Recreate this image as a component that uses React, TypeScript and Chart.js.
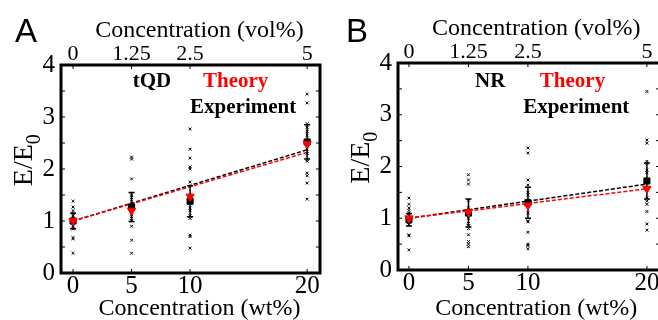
import React, { useEffect, useRef } from "react";
import { Chart, registerables } from "chart.js";

Chart.register(...registerables);

// ---------- data ----------
const CONC_WT = [0, 5, 10, 20];
const CONC_VOL_LABELS = ["0", "1.25", "2.5", "5"];
const Y_MAJOR = [0, 1, 2, 3, 4];
const Y_MINOR = [0, 0.5, 1, 1.5, 2, 2.5, 3, 3.5, 4];
const FIT_X = [0, 20];

// Panel A (tQD)
const A_RAW_0 = [1.38, 1.27, 1.2, 1.15, 1.1, 1.05, 1.0, 0.95, 0.9, 0.85, 0.68, 0.66, 0.38];
const A_RAW_5 = [2.23, 2.19, 1.81, 1.5, 1.45, 1.38, 1.3, 1.2, 1.12, 1.05, 1.0, 0.9, 0.63, 0.38];
const A_RAW_10 = [2.77, 2.38, 2.21, 2.04, 2.0, 1.75, 1.5, 1.4, 1.25, 1.2, 1.1, 1.05, 0.73, 0.7, 0.48];
const A_RAW_20 = [3.44, 3.27, 2.87, 2.8, 2.72, 2.65, 2.55, 2.45, 2.38, 2.3, 2.19, 2.15, 1.92, 1.87, 1.73, 1.42];
const A_EXP_MEAN = [1.0, 1.27, 1.38, 2.52];
const A_EXP_ERR = [0.15, 0.28, 0.3, 0.33];
const A_THEORY = [1.0, 1.2, 1.47, 2.48];
const A_FIT_EXP = [1.0, 2.37];
const A_FIT_THEORY = [1.0, 2.32];

// Panel B (NR)
const B_RAW_0 = [1.39, 1.27, 1.2, 1.15, 1.1, 1.05, 0.97, 0.92, 0.88, 0.68, 0.66, 0.39];
const B_RAW_5 = [1.84, 1.74, 1.66, 1.35, 1.2, 1.1, 1.0, 0.9, 0.85, 0.8, 0.68, 0.55, 0.5, 0.45];
const B_RAW_10 = [2.36, 2.26, 1.74, 1.64, 1.5, 1.45, 1.35, 1.25, 1.1, 0.95, 0.93, 0.73, 0.5, 0.47, 0.41];
const B_RAW_20 = [3.45, 2.51, 2.45, 2.1, 2.06, 1.93, 1.88, 1.6, 1.39, 1.33, 1.27, 1.13, 0.89, 0.77];
const B_EXP_MEAN = [0.97, 1.1, 1.3, 1.72];
const B_EXP_ERR = [0.12, 0.27, 0.3, 0.35];
const B_THEORY = [1.0, 1.12, 1.25, 1.57];
const B_FIT_EXP = [1.0, 1.66];
const B_FIT_THEORY = [1.0, 1.57];

const SERIF = '"Liberation Serif", "Times New Roman", serif';
const SANS = '"Liberation Sans", Arial, sans-serif';

type Panel = {
  letter: string;
  name: string;
  raw: number[][];
  expMean: number[];
  expErr: number[];
  theory: number[];
  fitExp: number[];
  fitTheory: number[];
  // layout
  width: number;
  left: number;
  top: number;
  bottom: number;
  xMin: number;
  xMax: number;
  letterX: number;
  nameAt: [number, number];
  theoryAt: [number, number];
  expAt: [number, number];
  titleCenter: number;
};

const PANELS: Panel[] = [
  {
    letter: "A",
    name: "tQD",
    raw: [A_RAW_0, A_RAW_5, A_RAW_10, A_RAW_20],
    expMean: A_EXP_MEAN,
    expErr: A_EXP_ERR,
    theory: A_THEORY,
    fitExp: A_FIT_EXP,
    fitTheory: A_FIT_THEORY,
    width: 329,
    left: 61,
    top: 65,
    bottom: 273,
    xMin: -1.03,
    xMax: 21.1,
    letterX: 15,
    nameAt: [5.1, 3.58],
    theoryAt: [11.1, 3.58],
    expAt: [10.0, 3.08],
    titleCenter: 10.8,
  },
  {
    letter: "B",
    name: "NR",
    raw: [B_RAW_0, B_RAW_5, B_RAW_10, B_RAW_20],
    expMean: B_EXP_MEAN,
    expErr: B_EXP_ERR,
    theory: B_THEORY,
    fitExp: B_FIT_EXP,
    fitTheory: B_FIT_THEORY,
    width: 340,
    left: 69,
    top: 63,
    bottom: 270,
    xMin: -0.92,
    xMax: 21.1,
    letterX: 17,
    nameAt: [5.55, 3.54],
    theoryAt: [11.0, 3.54],
    expAt: [9.6, 3.03],
    titleCenter: 10.7,
  },
];

const H = 320;

function buildChart(canvas: HTMLCanvasElement, p: Panel) {
  const raw = p.raw.flatMap((vals, i) => vals.map((v) => ({ x: CONC_WT[i], y: v })));
  const rightPad = 9;

  const decor = {
    id: "decor" + p.letter,
    beforeDatasetDraw(chart: any, args: any) {
      if (args.index !== 1) return;
      const ctx = chart.ctx;
      const xs = chart.scales.x;
      const ys = chart.scales.y;
      ctx.save();
      ctx.strokeStyle = "#000";
      ctx.lineWidth = 1.5;
      CONC_WT.forEach((c, i) => {
        const px = xs.getPixelForValue(c);
        const y1 = ys.getPixelForValue(p.expMean[i] + p.expErr[i]);
        const y2 = ys.getPixelForValue(p.expMean[i] - p.expErr[i]);
        ctx.beginPath();
        ctx.moveTo(px, y1);
        ctx.lineTo(px, y2);
        ctx.moveTo(px - 3, y1);
        ctx.lineTo(px + 3, y1);
        ctx.moveTo(px - 3, y2);
        ctx.lineTo(px + 3, y2);
        ctx.stroke();
      });
      ctx.restore();
    },
    afterDraw(chart: any) {
      const ctx = chart.ctx;
      const a = chart.chartArea;
      const xs = chart.scales.x;
      const ys = chart.scales.y;
      ctx.save();
      // inside ticks
      ctx.strokeStyle = "#000";
      ctx.lineWidth = 1;
      ctx.beginPath();
      Y_MINOR.forEach((v) => {
        const py = ys.getPixelForValue(v);
        ctx.moveTo(a.left, py);
        ctx.lineTo(a.left + 4, py);
        ctx.moveTo(a.right, py);
        ctx.lineTo(a.right - 4, py);
      });
      CONC_WT.forEach((c) => {
        const px = xs.getPixelForValue(c);
        ctx.moveTo(px, a.top);
        ctx.lineTo(px, a.top + 4);
        ctx.moveTo(px, a.bottom);
        ctx.lineTo(px, a.bottom - 4);
      });
      ctx.stroke();
      // frame
      ctx.lineWidth = 3;
      ctx.strokeRect(a.left, a.top, a.right - a.left, a.bottom - a.top);

      // annotations
      ctx.textAlign = "left";
      ctx.textBaseline = "alphabetic";
      ctx.font = `bold 21px ${SERIF}`;
      ctx.fillStyle = "#000";
      ctx.fillText(p.name, xs.getPixelForValue(p.nameAt[0]), ys.getPixelForValue(p.nameAt[1]));
      ctx.fillStyle = "#ff0000";
      ctx.fillText("Theory", xs.getPixelForValue(p.theoryAt[0]), ys.getPixelForValue(p.theoryAt[1]));
      ctx.fillStyle = "#000";
      ctx.fillText("Experiment", xs.getPixelForValue(p.expAt[0]), ys.getPixelForValue(p.expAt[1]));

      // axis titles
      ctx.textAlign = "center";
      ctx.font = `24px ${SERIF}`;
      const cx = xs.getPixelForValue(p.titleCenter);
      ctx.fillText("Concentration (vol%)", cx, a.top - 28);
      ctx.fillText("Concentration (wt%)", cx, H - 5);

      // y title
      ctx.translate(a.left - 29, ys.getPixelForValue(2.17));
      ctx.rotate(-Math.PI / 2);
      ctx.textAlign = "left";
      ctx.font = `28px ${SERIF}`;
      const w1 = ctx.measureText("E/E").width;
      ctx.font = `20px ${SERIF}`;
      const w2 = ctx.measureText("0").width;
      const start = -(w1 + w2) / 2;
      ctx.font = `28px ${SERIF}`;
      ctx.fillText("E/E", start, 0);
      ctx.font = `20px ${SERIF}`;
      ctx.fillText("0", start + w1, 8);
      ctx.restore();

      // panel letter
      ctx.save();
      ctx.font = `33px ${SANS}`;
      ctx.fillStyle = "#000";
      ctx.textAlign = "left";
      ctx.textBaseline = "alphabetic";
      ctx.fillText(p.letter, p.letterX, 42);
      ctx.restore();
    },
  };

  const setTicks = (vals: number[]) => (scale: any) => {
    scale.ticks = vals.map((v) => ({ value: v }));
  };

  return new Chart(canvas, {
    type: "scatter",
    data: {
      datasets: [
        {
          label: "Theory",
          data: CONC_WT.map((x, i) => ({ x, y: p.theory[i] })),
          pointStyle: "triangle",
          rotation: 180,
          pointRadius: 4.8,
          backgroundColor: "#ff0000",
          borderColor: "#ff0000",
          borderWidth: 1,
        },
        {
          label: "Experiment",
          data: CONC_WT.map((x, i) => ({ x, y: p.expMean[i] })),
          pointStyle: "rect",
          pointRadius: 4.3,
          backgroundColor: "#000",
          borderColor: "#000",
          borderWidth: 1,
        },
        {
          label: "Theory fit",
          data: FIT_X.map((x, i) => ({ x, y: p.fitTheory[i] })),
          showLine: true,
          borderColor: "#ff0000",
          borderDash: [4, 2],
          borderWidth: 1.5,
          pointRadius: 0,
        },
        {
          label: "Experiment fit",
          data: FIT_X.map((x, i) => ({ x, y: p.fitExp[i] })),
          showLine: true,
          borderColor: "#000",
          borderDash: [4, 2],
          borderWidth: 1.5,
          pointRadius: 0,
        },
        {
          label: "Samples",
          data: raw,
          pointStyle: "crossRot",
          pointRadius: 2,
          borderColor: "#000",
          backgroundColor: "#000",
          borderWidth: 1,
        },
      ],
    },
    options: {
      animation: false,
      responsive: false,
      devicePixelRatio: 1,
      layout: { padding: { left: 0, right: rightPad, top: 0, bottom: 0 } },
      plugins: { legend: { display: false }, tooltip: { enabled: false } },
      scales: {
        x: {
          type: "linear",
          position: "bottom",
          min: p.xMin,
          max: p.xMax,
          afterBuildTicks: setTicks(CONC_WT),
          afterFit: (s: any) => {
            s.height = H - p.bottom;
          },
          grid: { display: false, drawTicks: false },
          border: { display: false },
          ticks: {
            font: { family: SERIF, size: 25 },
            color: "#000",
            padding: -2,
            maxRotation: 0,
            autoSkip: false,
          },
        },
        x2: {
          type: "linear",
          position: "top",
          min: p.xMin,
          max: p.xMax,
          afterBuildTicks: setTicks(CONC_WT),
          afterFit: (s: any) => {
            s.height = p.top;
          },
          grid: { display: false, drawTicks: false },
          border: { display: false },
          ticks: {
            font: { family: SERIF, size: 22 },
            color: "#000",
            padding: -2,
            maxRotation: 0,
            autoSkip: false,
            callback: (v: any) => CONC_VOL_LABELS[CONC_WT.indexOf(Number(v))] ?? "",
          },
        },
        y: {
          type: "linear",
          position: "left",
          min: 0,
          max: 4,
          afterBuildTicks: setTicks(Y_MAJOR),
          afterFit: (s: any) => {
            s.width = p.left;
          },
          grid: { display: false, drawTicks: false },
          border: { display: false },
          ticks: {
            font: { family: SERIF, size: 25 },
            color: "#000",
            padding: 6,
            autoSkip: false,
          },
        },
      },
    },
    plugins: [decor],
  } as any);
}

function PanelChart({ p, x }: { p: Panel; x: number }) {
  const ref = useRef<HTMLCanvasElement>(null);
  useEffect(() => {
    if (!ref.current) return;
    const c = buildChart(ref.current, p);
    return () => c.destroy();
  }, [p]);
  return (
    <canvas
      ref={ref}
      width={p.width}
      height={H}
      style={{ position: "absolute", left: x, top: 0, width: p.width, height: H }}
    />
  );
}

export default function App() {
  useEffect(() => {
    document.body.style.margin = "0";
  }, []);
  return (
    <div
      style={{
        position: "absolute",
        left: 0,
        top: 0,
        width: 658,
        height: H,
        overflow: "hidden",
        background: "#fff",
      }}
    >
      <PanelChart p={PANELS[0]} x={0} />
      <PanelChart p={PANELS[1]} x={329} />
    </div>
  );
}
